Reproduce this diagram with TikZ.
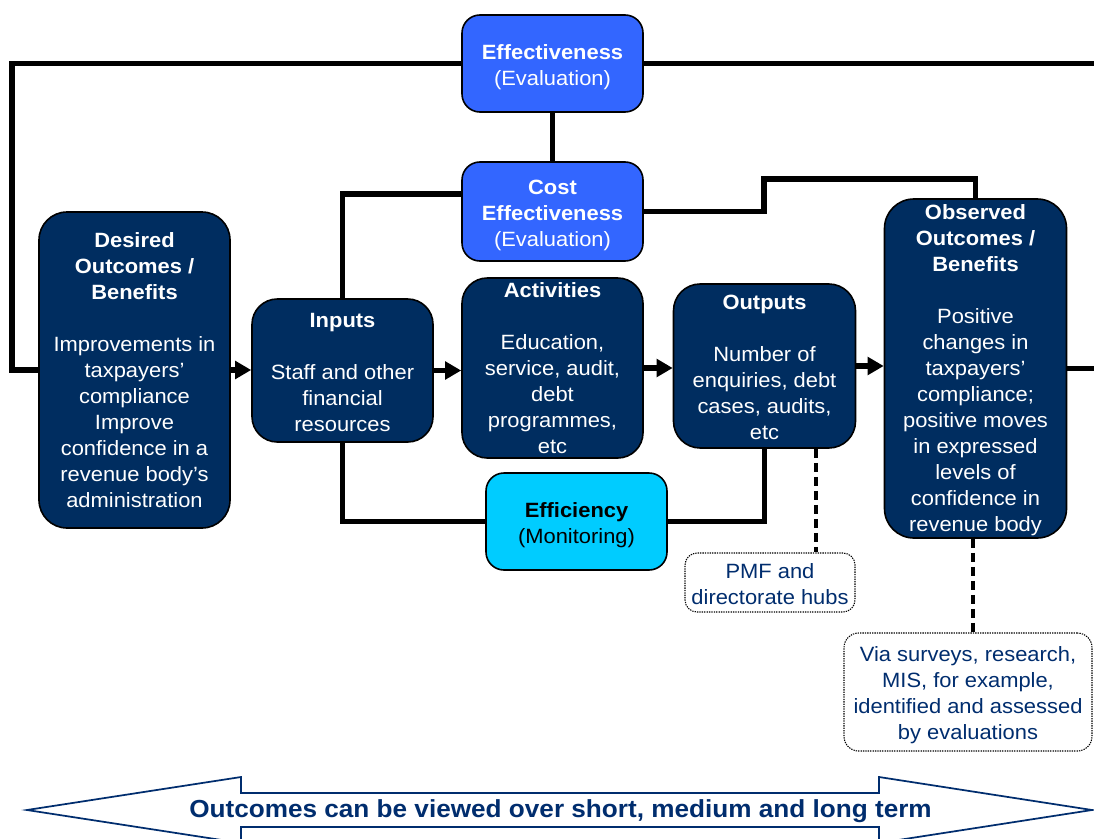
\documentclass[tikz,border=0pt]{standalone}
\usepackage{fontspec}
\setmainfont{Liberation Sans}[FakeStretch=1.06]
\usetikzlibrary{arrows.meta}
\definecolor{navy}{RGB}{0,45,96}
\definecolor{effblue}{RGB}{51,102,255}
\definecolor{effcyan}{RGB}{0,204,255}
\definecolor{navytext}{RGB}{0,45,110}
\newcommand{\hiStrut}{\rule{0pt}{16.5pt}}
\newcommand{\loStrut}{\rule{0pt}{13.5pt}}
\begin{document}
\begin{tikzpicture}[x=0.75pt,y=-0.75pt,
  box/.style={draw=black, line width=1.2pt, align=center, inner sep=0pt,
    font=\fontsize{15.5}{19.5}\selectfont},
  navybox/.style={box, fill=navy, text=white, rounded corners=20pt},
  bluebox/.style={box, fill=effblue, text=white, rounded corners=13.5pt},
  cyanbox/.style={box, fill=effcyan, text=black, rounded corners=13.5pt},
  notebox/.style={draw=black, line width=0.8pt, dash pattern=on 1pt off 0.8pt,
    fill=white, rounded corners=9pt, align=center, inner sep=0pt, text=navytext,
    font=\fontsize{15.5}{19.5}\selectfont},
  conn/.style={draw=black, line width=3.8pt, line join=miter},
  arr/.style={conn, -{Triangle[length=12pt,width=13pt]}},
  dsh/.style={draw=black, line width=2.6pt, dash pattern=on 7pt off 3.5pt},
]
\useasboundingbox (0,0) rectangle (1094,838);
\clip (0,0) rectangle (1094,838);
\fill[white] (0,0) rectangle (1094,838);

% boxes
\node[bluebox, minimum width=135.75pt, minimum height=72.75pt] (eff) at (552.5,63.5)
  {\hiStrut\textbf{Effectiveness}\\(Evaluation)};
\node[bluebox, minimum width=135.75pt, minimum height=74.25pt] (cost) at (552.5,211.5)
  {\hiStrut\textbf{Cost}\\\textbf{Effectiveness}\\(Evaluation)};
\node[navybox, rounded corners=21pt, minimum width=143.25pt, minimum height=237pt] (des) at (134.5,370)
  {\textbf{Desired}\\\textbf{Outcomes /}\\\textbf{Benefits}\\[19.5pt]Improvements in\\taxpayers’\\compliance\\Improve\\confidence in a\\revenue body’s\\administration};
\node[navybox, rounded corners=19pt, minimum width=135.75pt, minimum height=107.25pt] (inp) at (342.5,370.5)
  {\loStrut\textbf{Inputs}\\[19.5pt]Staff and other\\financial\\resources};
\node[navybox, rounded corners=19pt, minimum width=135.75pt, minimum height=135pt] (act) at (552.5,368)
  {\textbf{Activities}\\[19.5pt]Education,\\service, audit,\\debt\\programmes,\\etc};
\node[navybox, rounded corners=20pt, minimum width=136.5pt, minimum height=123pt] (out) at (764.5,366)
  {\loStrut\textbf{Outputs}\\[19.5pt]Number of\\enquiries, debt\\cases, audits,\\etc};
\node[navybox, rounded corners=22pt, minimum width=136.5pt, minimum height=254.25pt] (obs) at (975.5,368.5)
  {\loStrut\textbf{Observed}\\\textbf{Outcomes /}\\\textbf{Benefits}\\[19.5pt]Positive\\changes in\\taxpayers’\\compliance;\\positive moves\\in expressed\\levels of\\confidence in\\revenue body};
\node[cyanbox, minimum width=135.75pt, minimum height=72.75pt] (effi) at (576.5,521.5)
  {\hiStrut\textbf{Efficiency}\\(Monitoring)};
\node[notebox, minimum width=127.5pt, minimum height=44.25pt] (pmf) at (770,582.5)
  {\loStrut PMF and\\directorate hubs};
\node[notebox, rounded corners=11pt, minimum width=186pt, minimum height=88.5pt] (via) at (968,692)
  {\hiStrut Via surveys, research,\\MIS, for example,\\identified and assessed\\by evaluations};

% helper coordinates
\coordinate (kl) at (12,0);
\coordinate (kr) at (1094,0);
\coordinate (kc) at (342,194);
\coordinate (kt) at (764,179);
\coordinate (kd1) at (816,0);
\coordinate (kd2) at (973,0);

% connectors
\draw[conn] (eff.west) -| (des.west -| kl) -- (des.west);
\draw[conn] (eff.east) -- (eff.east -| kr);
\draw[conn] (eff) -- (cost);
\draw[conn] (cost.west |- kc) -| (inp.north);
\draw[conn] (cost.east) -| (kt) -| (obs.north);
\draw[conn] (obs.east) -- (obs.east -| kr);
\draw[arr] (des.east) -- (des.east -| inp.west);
\draw[arr] (inp.east) -- (inp.east -| act.west);
\draw[arr] (act.east) -- (act.east -| out.west);
\draw[arr] (out.east) -- (out.east -| obs.west);
\draw[conn] (inp.south) |- (effi.west);
\draw[conn] (effi.east) -| (out.south);
\draw[dsh] (out.south -| kd1) -- (pmf.north -| kd1);
\draw[dsh] (obs.south -| kd2) -- (via.north -| kd2);

% bottom double arrow
\draw[draw=navytext, line width=1.3pt, fill=white, line join=miter]
  (27,810) -- (241,777) -- (241,793) -- (879,793) -- (879,777) -- (1092,810)
  -- (879,843) -- (879,827) -- (241,827) -- (241,843) -- cycle;
\node[text=navytext, font=\bfseries\fontsize{18.5}{22}\selectfont] (term) at (560.5,811)
  {Outcomes can be viewed over short, medium and long term};
\end{tikzpicture}
\end{document}
